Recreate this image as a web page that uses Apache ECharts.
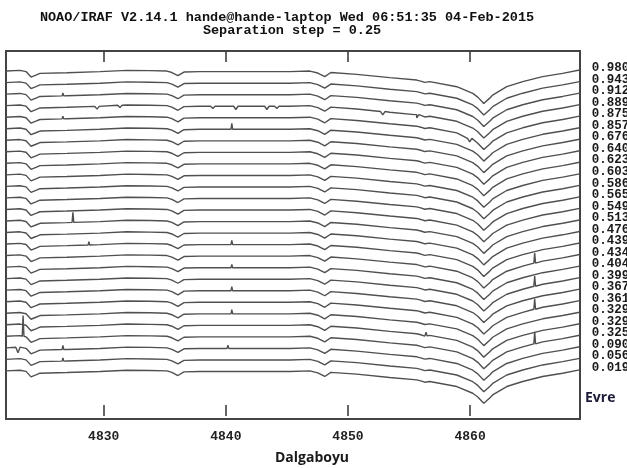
<!DOCTYPE html>
<html>
<head>
<meta charset="utf-8">
<script src="https://cdn.jsdelivr.net/npm/echarts@6.0.0/dist/echarts.min.js"></script>
<style>
html, body { margin: 0; padding: 0; background: #fff; }
#chart { width: 627px; height: 468px; }
</style>
</head>
<body>
<div id="chart"></div>
<script>
// aperture labels, top spectrum first
const apertureLabels = [
  '0.980', '0.943', '0.912', '0.889', '0.875', '0.857', '0.676', '0.640', '0.623',
  '0.603', '0.586', '0.565', '0.549', '0.513', '0.476', '0.439', '0.434', '0.404',
  '0.399', '0.367', '0.361', '0.329', '0.329', '0.325', '0.090', '0.056', '0.019'
]
const sepStep = 0.25
const tickValues = [4830, 4840, 4850, 4860]

// common spectrum shape (flux relative to the right-end continuum)
const profileWave = [
  4822.00, 4823.15, 4823.64, 4824.05, 4824.45, 4824.78, 4826.99, 4829.69, 4831.90,
  4833.78, 4835.18, 4835.58, 4836.08, 4836.57, 4837.88, 4845.24, 4846.88, 4847.53,
  4848.10, 4848.60, 4850.72, 4853.42, 4855.63, 4855.96, 4856.29, 4856.70, 4858.91,
  4860.22, 4860.63, 4861.12, 4861.61, 4861.85, 4863.00, 4864.31, 4865.94, 4867.58,
  4868.97
]
const profileFlux = [
  -0.022, -0.007, -0.033, -0.152, -0.109, -0.072, -0.057, -0.035, -0.007,
  -0.013, -0.022, -0.054, -0.122, -0.043, -0.035, -0.035, -0.022, -0.065,
  -0.143, -0.054, -0.093, -0.165, -0.217, -0.239, -0.267, -0.252, -0.361,
  -0.507, -0.587, -0.724, -0.609, -0.543, -0.361, -0.252, -0.143, -0.072,
  0
]

// spikes and small lines: [row from top, wavelength, flux change]
const features = [
  [2, 4826.66, 0.06], [4, 4826.66, 0.06],
  [3, 4829.45, -0.06], [3, 4831.33, -0.05], [3, 4838.94, -0.05], [3, 4840.82, -0.07],
  [3, 4843.36, -0.07], [3, 4844.18, -0.05], [3, 4852.85, -0.07], [3, 4855.63, -0.07],
  [4, 4859.97, -0.08],
  [5, 4840.49, 0.13],
  [13, 4827.48, 0.22],
  [15, 4828.79, 0.07], [15, 4840.49, 0.09],
  [16, 4865.29, 0.22],
  [17, 4840.49, 0.07],
  [18, 4865.29, 0.22],
  [19, 4840.49, 0.09],
  [20, 4865.29, 0.22],
  [21, 4840.49, 0.09],
  [22, 4856.40, 0.08],
  [23, 4823.40, 0.45], [23, 4865.29, 0.26],
  [24, 4822.98, -0.12], [24, 4826.66, 0.09], [24, 4840.17, 0.07],
  [25, 4826.66, 0.07]
]

const baseAt = (w) => {
  for (let i = 1; i < profileWave.length; i++) {
    if (w <= profileWave[i]) {
      const t = (w - profileWave[i - 1]) / (profileWave[i] - profileWave[i - 1])
      return profileFlux[i - 1] + t * (profileFlux[i] - profileFlux[i - 1])
    }
  }
  return profileFlux[profileFlux.length - 1]
}

const n = apertureLabels.length
const series = apertureLabels.map((label, row) => {
  const level = 1 + sepStep * (n - 1 - row)
  const pts = profileWave.map((w, i) => [w, level + profileFlux[i]])
  features.filter(f => f[0] === row).forEach(f => {
    const hw = f[2] > 0 ? 0.07 : 0.18
    const b = level + baseAt(f[1])
    pts.push([f[1] - hw, b], [f[1], b + f[2]], [f[1] + hw, b])
  })
  pts.sort((a, b) => a[0] - b[0])
  return {
    name: label,
    type: 'line',
    data: pts,
    showSymbol: false,
    silent: true,
    lineStyle: { color: '#505050', width: 1.4 },
    endLabel: {
      show: true,
      formatter: label,
      distance: 12,
      offset: [0, -2],
      fontFamily: 'Liberation Mono',
      fontWeight: 'bold',
      fontSize: 12.5,
      color: '#1a1a1a'
    }
  }
})

const chart = echarts.init(document.getElementById('chart'))

const axisCommon = {
  type: 'value',
  min: 4822,
  max: 4869,
  splitLine: { show: false },
  axisLine: { show: false },
  axisTick: {
    show: true,
    inside: true,
    length: 11,
    customValues: tickValues,
    lineStyle: { color: '#333', width: 1.5 }
  }
}

chart.setOption({
  animation: false,
  grid: {
    left: 6, right: 47, top: 51, bottom: 49,
    show: true,
    borderColor: '#444',
    borderWidth: 2
  },
  xAxis: [
    Object.assign({}, axisCommon, {
      position: 'bottom',
      axisLabel: {
        customValues: tickValues,
        formatter: v => String(v),
        margin: 11,
        fontFamily: 'Liberation Mono',
        fontWeight: 'bold',
        fontSize: 13,
        color: '#222'
      }
    }),
    Object.assign({}, axisCommon, {
      position: 'top',
      axisLabel: { show: false }
    })
  ],
  yAxis: {
    type: 'value',
    min: -0.065,
    max: 7.913,
    show: false
  },
  graphic: [
    {
      type: 'text', x: 287, y: 18,
      style: {
        text: 'NOAO/IRAF V2.14.1 hande@hande-laptop Wed 06:51:35 04-Feb-2015',
        font: 'bold 13.5px "Liberation Mono"', fill: '#111',
        align: 'center', verticalAlign: 'middle'
      }
    },
    {
      type: 'text', x: 292, y: 31,
      style: {
        text: 'Separation step = 0.25',
        font: 'bold 13.5px "Liberation Mono"', fill: '#111',
        align: 'center', verticalAlign: 'middle'
      }
    },
    {
      type: 'text', x: 312, y: 458,
      style: {
        text: 'Dalgaboyu',
        font: 'bold 14px "Open Sans"', fill: '#1a1a1a',
        align: 'center', verticalAlign: 'middle'
      }
    },
    {
      type: 'text', x: 585, y: 398,
      style: {
        text: 'Evre',
        font: 'bold 14px "Open Sans"', fill: '#1b1b38',
        align: 'left', verticalAlign: 'middle'
      }
    }
  ],
  series: series
})
</script>
</body>
</html>
